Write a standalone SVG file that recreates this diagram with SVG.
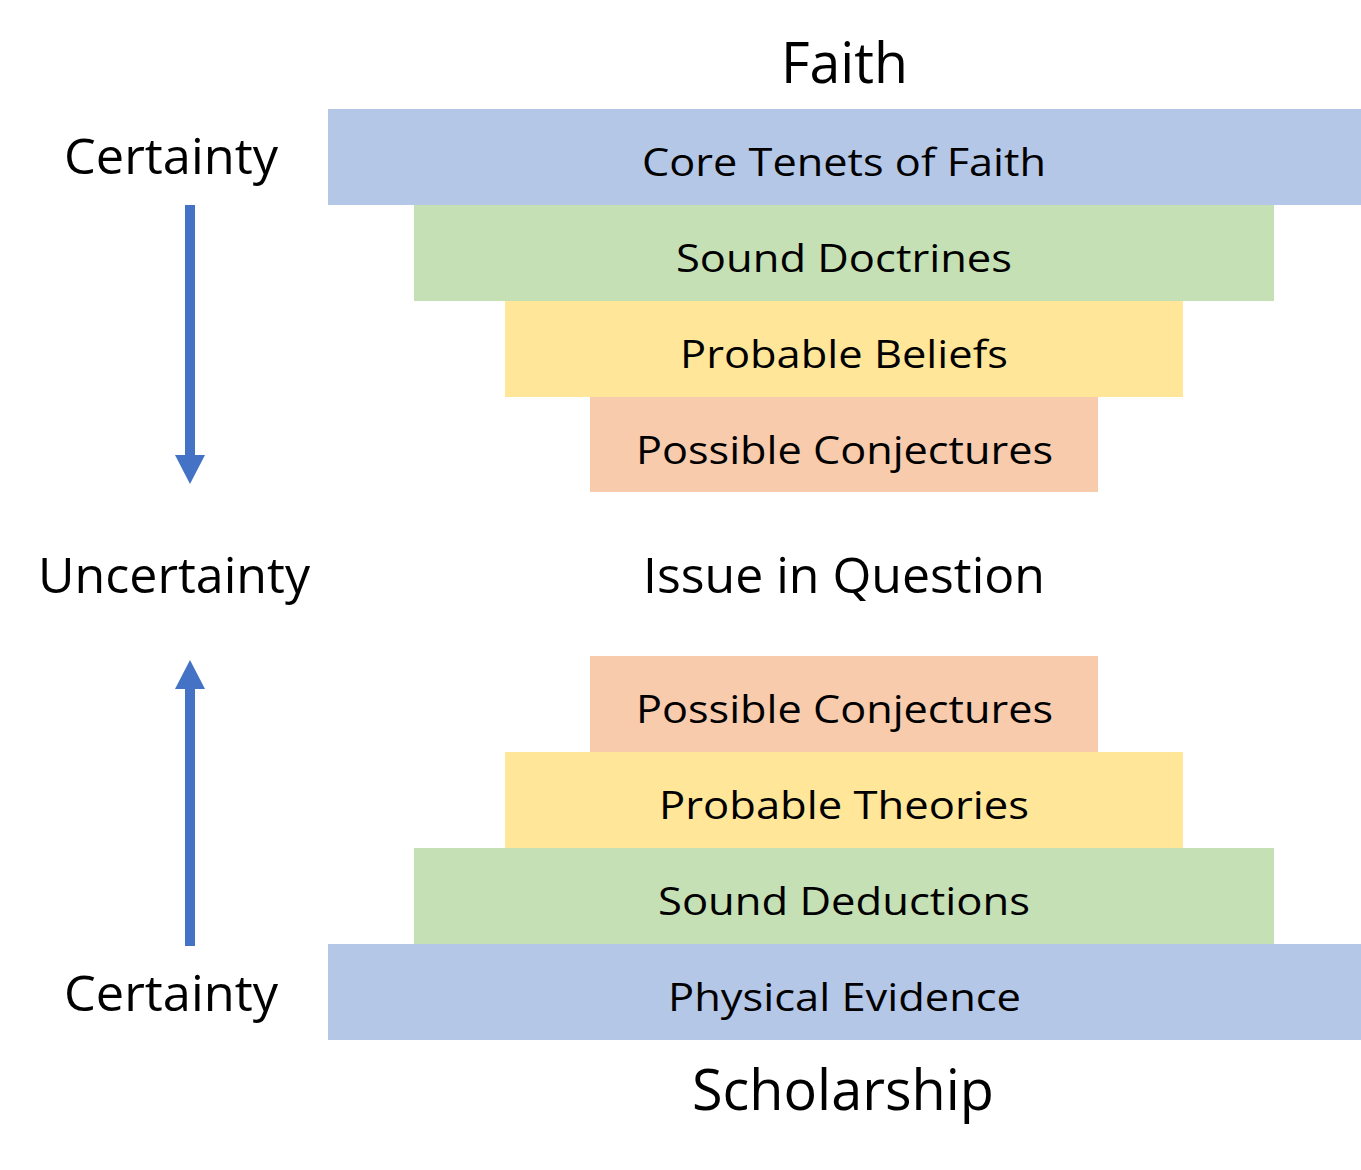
<svg xmlns="http://www.w3.org/2000/svg" width="1361" height="1170" viewBox="0 0 1361 1170">
<defs>
<style>
.t{font-family:"Open Sans","Noto Sans","Liberation Sans",sans-serif;fill:#000;}
.big{font-size:50px;}
.box{font-size:38px;}
.blue{fill:#B4C7E7;}
.green{fill:#C5E0B4;}
.yellow{fill:#FFE699;}
.orange{fill:#F8CBAD;}
.arrow{stroke:#4472C4;stroke-width:10;fill:none;}
</style>
<marker id="head" viewBox="0 0 30 30" markerWidth="30" markerHeight="30" refX="0" refY="15" orient="auto" markerUnits="userSpaceOnUse">
<path d="M0,0 L29,15 L0,30 Z" fill="#4472C4"/>
</marker>
</defs>
<rect width="1361" height="1170" fill="#fff"/>

<g id="label-faith"><text class="t" x="781" y="83" font-size="57" textLength="127" lengthAdjust="spacingAndGlyphs">Faith</text></g>
<g id="label-certainty-top"><text class="t big" x="64" y="174" textLength="214" lengthAdjust="spacingAndGlyphs">Certainty</text></g>
<g id="label-uncertainty"><text class="t big" x="38" y="593" textLength="272" lengthAdjust="spacingAndGlyphs">Uncertainty</text></g>
<g id="label-issue"><text class="t big" x="643" y="593" textLength="402" lengthAdjust="spacingAndGlyphs">Issue in Question</text></g>
<g id="label-certainty-bottom"><text class="t big" x="64" y="1011" textLength="214" lengthAdjust="spacingAndGlyphs">Certainty</text></g>
<g id="label-scholarship"><text class="t" x="692" y="1110" font-size="57" textLength="302" lengthAdjust="spacingAndGlyphs">Scholarship</text></g>

<g id="core-tenets"><rect class="blue" x="328" y="109" width="1033" height="96"/><text class="t box" x="642" y="176" textLength="404" lengthAdjust="spacingAndGlyphs">Core Tenets of Faith</text></g>
<g id="sound-doctrines"><rect class="green" x="414" y="205" width="860" height="96"/><text class="t box" x="676" y="272" textLength="336" lengthAdjust="spacingAndGlyphs">Sound Doctrines</text></g>
<g id="probable-beliefs"><rect class="yellow" x="505" y="301" width="678" height="96"/><text class="t box" x="680" y="368" textLength="328" lengthAdjust="spacingAndGlyphs">Probable Beliefs</text></g>
<g id="possible-conjectures-top"><rect class="orange" x="590" y="397" width="508" height="95"/><text class="t box" x="636" y="464" textLength="417" lengthAdjust="spacingAndGlyphs">Possible Conjectures</text></g>

<g id="possible-conjectures-bottom"><rect class="orange" x="590" y="656" width="508" height="96"/><text class="t box" x="636" y="723" textLength="417" lengthAdjust="spacingAndGlyphs">Possible Conjectures</text></g>
<g id="probable-theories"><rect class="yellow" x="505" y="752" width="678" height="96"/><text class="t box" x="659" y="819" textLength="370" lengthAdjust="spacingAndGlyphs">Probable Theories</text></g>
<g id="sound-deductions"><rect class="green" x="414" y="848" width="860" height="96"/><text class="t box" x="658" y="915" textLength="372" lengthAdjust="spacingAndGlyphs">Sound Deductions</text></g>
<g id="physical-evidence"><rect class="blue" x="328" y="944" width="1033" height="96"/><text class="t box" x="668" y="1011" textLength="353" lengthAdjust="spacingAndGlyphs">Physical Evidence</text></g>

<g id="connectors">
<line class="arrow" x1="190" y1="205" x2="190" y2="455" marker-end="url(#head)"/>
<line class="arrow" x1="190" y1="946" x2="190" y2="689" marker-end="url(#head)"/>
</g>
</svg>
